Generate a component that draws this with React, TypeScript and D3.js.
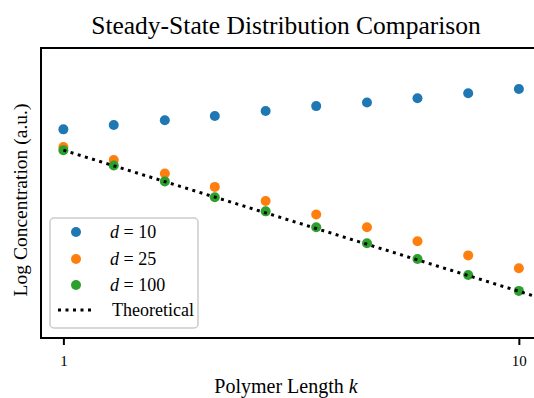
import React, { useEffect, useRef } from "react";
import * as d3 from "d3";

// polymer lengths (log spaced 1..10)
const lengths = [1, 1.29, 1.67, 2.15, 2.78, 3.59, 4.64, 5.99, 7.74, 10];

// log concentration (a.u.)
const d10 = [0.34, 0.41, 0.49, 0.56, 0.64, 0.72, 0.78, 0.85, 0.93, 1.0];
const d25 = [0.05, -0.16, -0.38, -0.6, -0.83, -1.05, -1.26, -1.49, -1.72, -1.93];
const d100 = [0, -0.25, -0.51, -0.77, -1.0, -1.26, -1.52, -1.78, -2.04, -2.3];

// theoretical straight line in log k
const theoK = [1, 12.5];
const theoY = [0, -2.53];

const seriesNames = ["10", "25", "100"];
const colors = ["#1f77b4", "#ff7f0e", "#2ca02c"];
const xTicks = [1, 10];

const App: React.FC = () => {
  const svgRef = useRef<SVGSVGElement | null>(null);

  useEffect(() => {
    const width = 534;
    const margin = { top: 48, left: 41, bottom: 338 };
    const font = "Liberation Serif, serif";

    const svg = d3.select(svgRef.current);
    svg.selectAll("*").remove();

    const x = d3.scaleLog().domain([0.893, 12.5]).range([margin.left, 563]);
    const y = d3.scaleLinear().domain([-3.07, 1.67]).range([margin.bottom, margin.top]);

    const clip = svg.append("defs").append("clipPath").attr("id", "plot-clip");
    clip
      .append("rect")
      .attr("x", margin.left)
      .attr("y", margin.top)
      .attr("width", width - margin.left)
      .attr("height", margin.bottom - margin.top);

    const plot = svg.append("g").attr("clip-path", "url(#plot-clip)");

    // scatter series
    [d10, d25, d100].forEach((vals, i) => {
      plot
        .append("g")
        .selectAll("circle")
        .data(vals)
        .enter()
        .append("circle")
        .attr("cx", (_, j) => x(lengths[j]))
        .attr("cy", (d) => y(d))
        .attr("r", 5)
        .attr("fill", colors[i]);
    });

    // theoretical line
    const line = d3
      .line<number>()
      .x((d) => x(d))
      .y((_, j) => y(theoY[j]));
    plot
      .append("path")
      .attr("d", line(theoK))
      .attr("fill", "none")
      .attr("stroke", "#000")
      .attr("stroke-width", 3)
      .attr("stroke-dasharray", "3,4.5");

    // spines
    svg
      .append("path")
      .attr("d", `M${width + 5},${margin.top}H${margin.left}V${margin.bottom}H${width + 5}`)
      .attr("fill", "none")
      .attr("stroke", "#000")
      .attr("stroke-width", 2);

    // x axis
    const xAxis = svg
      .append("g")
      .attr("transform", `translate(0,${margin.bottom})`)
      .call(
        d3
          .axisBottom(x)
          .tickValues(xTicks)
          .tickFormat((d) => String(d))
          .tickSize(7)
          .tickPadding(10)
      );
    xAxis.select(".domain").remove();
    xAxis.selectAll("line").attr("stroke", "#000").attr("stroke-width", 2);
    xAxis
      .selectAll("text")
      .attr("fill", "#000")
      .attr("font-family", font)
      .attr("font-size", 15);

    // title and labels
    svg
      .append("text")
      .attr("x", 286)
      .attr("y", 34)
      .attr("text-anchor", "middle")
      .attr("font-family", font)
      .attr("font-size", 25.5)
      .text("Steady-State Distribution Comparison");

    const xl = svg
      .append("text")
      .attr("x", 286)
      .attr("y", 393)
      .attr("text-anchor", "middle")
      .attr("font-family", font)
      .attr("font-size", 20);
    xl.append("tspan").text("Polymer Length ");
    xl.append("tspan").attr("font-style", "italic").text("k");

    svg
      .append("text")
      .attr("transform", `translate(27,${(margin.top + margin.bottom) / 2 + 7}) rotate(-90)`)
      .attr("text-anchor", "middle")
      .attr("font-family", font)
      .attr("font-size", 19.5)
      .text("Log Concentration (a.u.)");

    // legend
    const lg = svg.append("g").attr("transform", "translate(50,218)");
    lg.append("rect")
      .attr("width", 148)
      .attr("height", 110)
      .attr("rx", 4)
      .attr("fill", "rgba(255,255,255,0.8)")
      .attr("stroke", "#cccccc")
      .attr("stroke-width", 1.5);
    const rowY = [14, 41, 67, 92];
    seriesNames.forEach((name, i) => {
      lg.append("circle").attr("cx", 26).attr("cy", rowY[i]).attr("r", 5).attr("fill", colors[i]);
      const t = lg
        .append("text")
        .attr("x", 60)
        .attr("y", rowY[i] + 6)
        .attr("font-family", font)
        .attr("font-size", 18);
      t.append("tspan").attr("font-style", "italic").text("d");
      t.append("tspan").text(` = ${name}`);
    });
    lg.append("line")
      .attr("x1", 8)
      .attr("x2", 44)
      .attr("y1", rowY[3])
      .attr("y2", rowY[3])
      .attr("stroke", "#000")
      .attr("stroke-width", 3)
      .attr("stroke-dasharray", "3,4.5");
    lg.append("text")
      .attr("x", 62)
      .attr("y", rowY[3] + 6)
      .attr("font-family", font)
      .attr("font-size", 18)
      .text("Theoretical");
  }, []);

  return (
    <svg
      ref={svgRef}
      width={534}
      height={398}
      style={{ position: "absolute", left: 0, top: 0, background: "#fff" }}
    ></svg>
  );
};

export default App;
